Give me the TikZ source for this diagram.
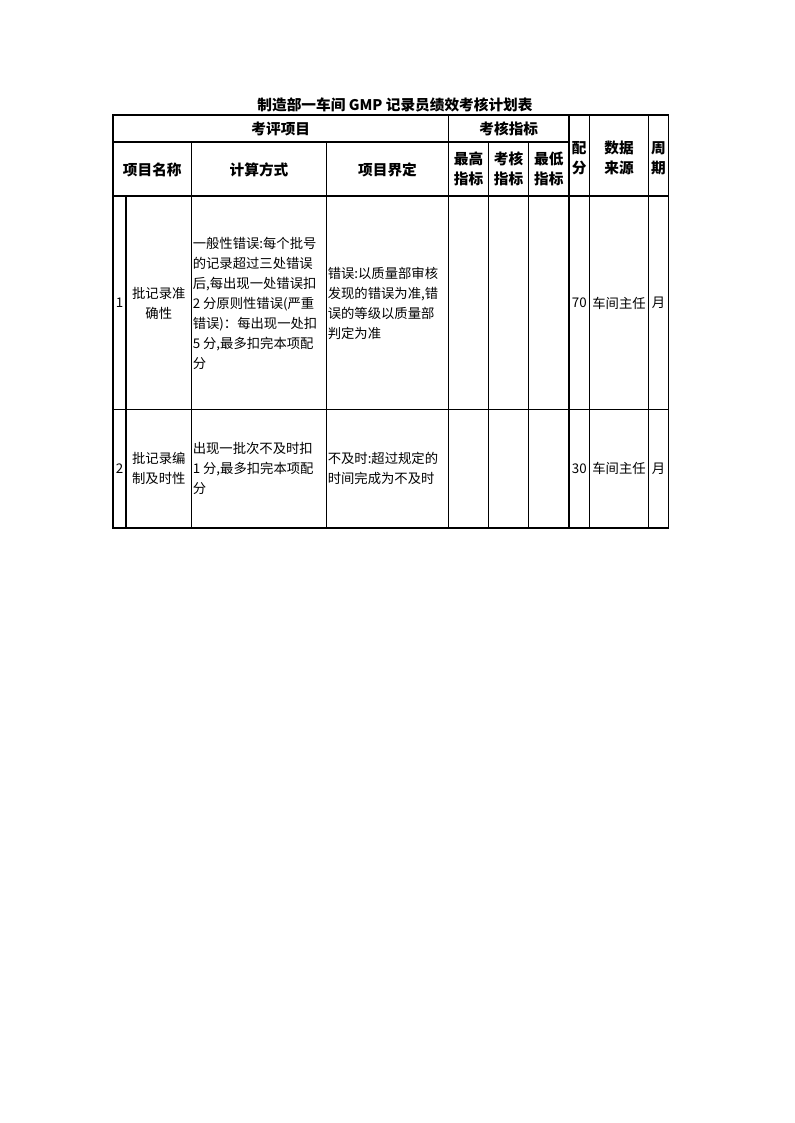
\documentclass[tikz,border=0pt]{standalone}
\usepackage{fontspec}
\setmainfont{Noto Sans CJK SC}
\tikzstyle{head} = [font=\fontsize{11pt}{15pt}\selectfont\bfseries, align=center, inner sep=0pt]
\tikzstyle{cell} = [font=\fontsize{10pt}{15pt}\selectfont, align=left, inner sep=0pt, anchor=west]
\tikzstyle{mid} = [font=\fontsize{10pt}{15pt}\selectfont, align=center, inner sep=0pt]
\tikzstyle{rule} = [line width=0.8pt, black]

\begin{document}
\begin{tikzpicture}[x=0.75pt, y=-0.75pt]
	\useasboundingbox (0,0) rectangle (794,1123);

	\node (title) [head] at (395,105) {制造部一车间 GMP 记录员绩效考核计划表};

	% table frame and rules
	\draw [rule] (113,115) rectangle (668.5,528);
	\draw [rule] (113,142) -- (569,142);
	\draw [rule] (113,196) -- (668.5,196);
	\draw [rule] (113,409.5) -- (668.5,409.5);
	\foreach \x/\y in {126/196, 191.5/142, 326.5/142, 448.5/115, 488.5/142, 528.5/142, 569/115, 589.5/115, 648.5/115}
		\draw [rule] (\x,\y) -- (\x,528);

	% header
	\node (kp) [head] at (280.75,129) {考评项目};
	\node (kh) [head] at (508.75,129) {考核指标};
	\node (pf) [head] at (579.25,158) {配\\分};
	\node (sj) [head] at (619,158) {数据\\来源};
	\node (zq) [head] at (658.5,158) {周\\期};
	\node (xmmc) [head] at (152.25,170) {项目名称};
	\node (jsfs) [head] at (259,170) {计算方式};
	\node (xmjd) [head] at (387.5,170) {项目界定};
	\node (zg) [head] at (468.5,169) {最高\\指标};
	\node (khzb) [head] at (508.5,169) {考核\\指标};
	\node (zd) [head] at (548.75,169) {最低\\指标};

	% row 1
	\node (n1) [mid] at (119.5,303) {1};
	\node (name1) [mid] at (158.75,303) {批记录准\\确性};
	\node (calc1) [cell] at (192.5,303) {一般性错误:每个批号\\的记录超过三处错误\\后,每出现一处错误扣\\2 分原则性错误(严重\\错误)：每出现一处扣\\5 分,最多扣完本项配\\分};
	\node (def1) [cell] at (327.5,303) {错误:以质量部审核\\发现的错误为准,错\\误的等级以质量部\\判定为准};
	\node (s1) [mid] at (579.25,303) {70};
	\node (src1) [mid] at (619,303) {车间主任};
	\node (per1) [mid] at (658.5,303) {月};

	% row 2
	\node (n2) [mid] at (119.5,468.75) {2};
	\node (name2) [mid] at (158.75,468.75) {批记录编\\制及时性};
	\node (calc2) [cell] at (192.5,468.75) {出现一批次不及时扣\\1 分,最多扣完本项配\\分};
	\node (def2) [cell] at (327.5,468.75) {不及时:超过规定的\\时间完成为不及时};
	\node (s2) [mid] at (579.25,468.75) {30};
	\node (src2) [mid] at (619,468.75) {车间主任};
	\node (per2) [mid] at (658.5,468.75) {月};

\end{tikzpicture}
\end{document}
